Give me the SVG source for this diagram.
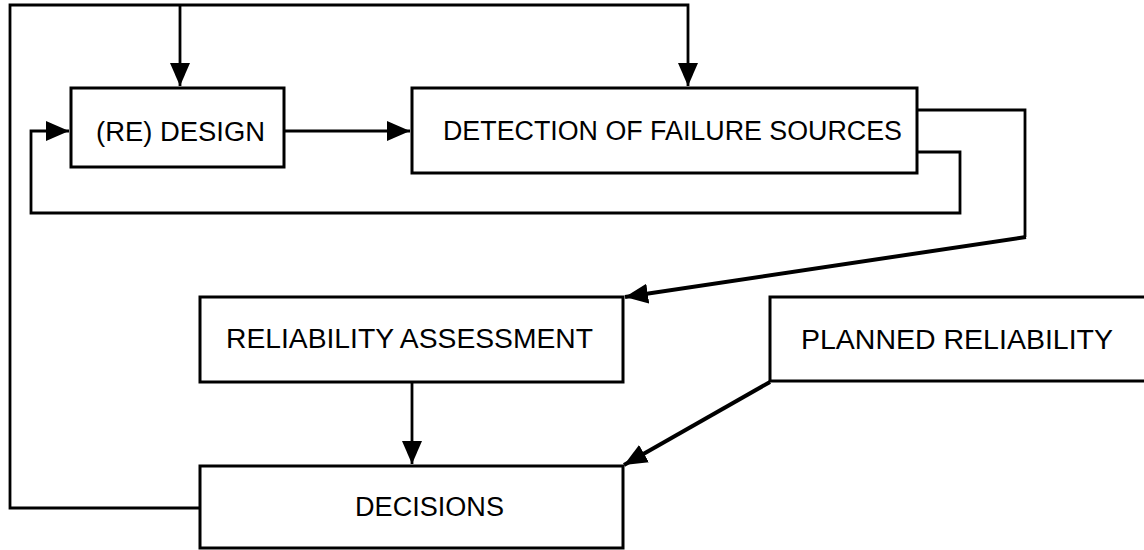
<svg xmlns="http://www.w3.org/2000/svg" width="1144" height="550" viewBox="0 0 1144 550">
<style>
.box{fill:#fff;stroke:#000;stroke-width:3}
.lbl{font-family:"Liberation Sans",Arial,Helvetica,sans-serif;font-size:27px;fill:#000}
.ln{fill:none;stroke:#000;stroke-width:2.8;stroke-linejoin:miter}
.dg{fill:none;stroke:#000;stroke-width:4}
</style>
<defs>
<marker id="ah" markerUnits="userSpaceOnUse" markerWidth="26" markerHeight="22" refX="23" refY="10" orient="auto">
<path d="M0,0 L23,10 L0,20 z" fill="#000"/>
</marker>
</defs>
<rect width="1144" height="550" fill="#fff"/>
<g id="connectors">
<polyline class="ln" points="200,508 10,508 10,5 688,5 688,86" marker-end="url(#ah)"/>
<line class="ln" x1="180" y1="5" x2="180" y2="86" marker-end="url(#ah)"/>
<line class="ln" x1="284" y1="131" x2="410" y2="131" marker-end="url(#ah)"/>
<polyline class="ln" points="917,152 960,152 960,213 31,213 31,131 69,131" marker-end="url(#ah)"/>
<polyline class="ln" points="917,110 1025,110 1025,237"/>
<line class="dg" x1="1026" y1="237" x2="625" y2="297" marker-end="url(#ah)"/>
<line class="ln" x1="412" y1="382" x2="412" y2="464" marker-end="url(#ah)"/>
<line class="dg" x1="770" y1="382" x2="624" y2="465" marker-end="url(#ah)"/>
</g>
<g id="redesign">
<rect class="box" x="71" y="88" width="213" height="79"/>
<text class="lbl" x="96" y="141" textLength="169" lengthAdjust="spacingAndGlyphs">(RE) DESIGN</text>
</g>
<g id="detection">
<rect class="box" x="412" y="88" width="505" height="85"/>
<text class="lbl" x="443" y="140" textLength="459" lengthAdjust="spacingAndGlyphs">DETECTION OF FAILURE SOURCES</text>
</g>
<g id="reliability">
<rect class="box" x="200" y="297" width="423" height="85"/>
<text class="lbl" x="226" y="348" textLength="367" lengthAdjust="spacingAndGlyphs">RELIABILITY ASSESSMENT</text>
</g>
<g id="planned">
<rect class="box" x="770" y="297" width="380" height="84"/>
<text class="lbl" x="801" y="349" textLength="312" lengthAdjust="spacingAndGlyphs">PLANNED RELIABILITY</text>
</g>
<g id="decisions">
<rect class="box" x="200" y="466" width="423" height="82"/>
<text class="lbl" x="355" y="516" textLength="149" lengthAdjust="spacingAndGlyphs">DECISIONS</text>
</g>
</svg>
